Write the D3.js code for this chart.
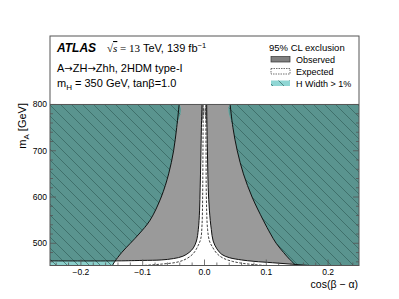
<!DOCTYPE html>
<html>
<head>
<meta charset="utf-8">
<script src="https://cdn.jsdelivr.net/npm/d3@7"></script>
<style>
  body { margin: 0; background: #fff; }
  text { font-family: "Liberation Sans", Arial, sans-serif; }
</style>
</head>
<body>
<div class="chart"></div>
<script>
// ---- data: [cos(b-a), mA] ----
const teal_left = [[-0.041, 800], [-0.045, 750], [-0.050, 700], [-0.058, 650], [-0.070, 600],
  [-0.088, 550], [-0.106, 520], [-0.120, 500], [-0.134, 480], [-0.1455, 460], [-0.149, 452]];
const teal_right = [[0.0415, 800], [0.046, 750], [0.053, 700], [0.063, 650], [0.077, 600],
  [0.095, 550], [0.107, 520], [0.116, 500], [0.128, 480], [0.138, 465], [0.148, 452]];

// observed limit, left branch from top of funnel down to the left edge
const obs_left = [[-0.004, 800], [-0.005, 750], [-0.006, 680], [-0.007, 620], [-0.008, 570],
  [-0.010, 530], [-0.013, 505], [-0.018, 490], [-0.025, 480], [-0.035, 472], [-0.050, 467],
  [-0.070, 464], [-0.100, 463], [-0.140, 462], [-0.250, 462]];
const obs_right = [[0.0035, 800], [0.004, 750], [0.005, 680], [0.006, 620], [0.008, 570],
  [0.011, 530], [0.014, 505], [0.020, 488], [0.028, 476], [0.040, 469], [0.060, 464],
  [0.080, 461], [0.110, 458], [0.140, 455], [0.170, 452], [0.200, 449]];

const exp_left = [[-0.002, 800], [-0.0025, 700], [-0.003, 600], [-0.004, 540], [-0.006, 510],
  [-0.010, 496], [-0.018, 478], [-0.030, 466], [-0.045, 459], [-0.070, 455], [-0.100, 452], [-0.130, 450]];
const exp_right = [[0.002, 800], [0.0025, 700], [0.003, 600], [0.005, 530], [0.008, 505],
  [0.012, 494], [0.020, 478], [0.030, 468], [0.045, 461], [0.060, 457], [0.080, 454], [0.110, 451], [0.140, 449]];

const xMajor = [-0.2, -0.1, 0.0, 0.1, 0.2];
const yMajor = [500, 600, 700, 800];

const w = 399, h = 299;
const pl = 50, pr = 359, pt = 36, pb = 265.5;

const x = d3.scaleLinear().domain([-0.25, 0.25]).range([pl, pr]);
const y = d3.scaleLinear().domain([452, 948]).range([pb, pt]);

const svg = d3.select(".chart").append("svg")
  .attr("width", w).attr("height", h);

const defs = svg.append("defs");
defs.append("clipPath").attr("id", "plotclip")
  .append("rect").attr("x", pl).attr("y", y(800)).attr("width", pr - pl).attr("height", pb - y(800));

const hatch = defs.append("pattern").attr("id", "hatch")
  .attr("patternUnits", "userSpaceOnUse").attr("width", 11).attr("height", 11);
hatch.append("path").attr("d", "M0,0L11,11M-5.5,5.5L5.5,16.5M5.5,-5.5L16.5,5.5")
  .attr("stroke", "#33605c").attr("stroke-width", 0.7);

const line = d3.line().x(d => x(d[0])).y(d => y(d[1])).curve(d3.curveCatmullRom);

// region polygons
const tealL = [[-0.25, 800]].concat(teal_left, [[-0.25, 440]]);
const tealR = [[0.25, 800]].concat(teal_right, [[0.25, 440]]);
const obsL = [[-0.25, 800]].concat(obs_left);
const obsR = [[0.25, 800]].concat(obs_right, [[0.25, 440]]);

defs.append("clipPath").attr("id", "obsclip").selectAll("path")
  .data([obsL, obsR]).enter().append("path").attr("d", line);

const plot = svg.append("g").attr("clip-path", "url(#plotclip)");

plot.selectAll(".obs").data([obsL, obsR]).enter().append("path")
  .attr("d", line).attr("fill", "#9a9a9a");

plot.selectAll(".teal-light").data([tealL, tealR]).enter().append("path")
  .attr("d", line).attr("fill", "#8bcfcb");

plot.append("g").attr("clip-path", "url(#obsclip)")
  .selectAll("path").data([tealL, tealR]).enter().append("path")
  .attr("d", line).attr("fill", "#5a948f");

plot.selectAll(".teal-hatch").data([tealL, tealR]).enter().append("path")
  .attr("d", line).attr("fill", "url(#hatch)");

// contour lines
plot.selectAll(".teal-line").data([teal_left, teal_right]).enter().append("path")
  .attr("d", line).attr("fill", "none").attr("stroke", "#111").attr("stroke-width", 1);
plot.selectAll(".obs-line").data([obs_left, obs_right]).enter().append("path")
  .attr("d", line).attr("fill", "none").attr("stroke", "#111").attr("stroke-width", 1);
plot.selectAll(".exp-line").data([exp_left, exp_right]).enter().append("path")
  .attr("d", line).attr("fill", "none").attr("stroke", "#111").attr("stroke-width", 0.8)
  .attr("stroke-dasharray", "2.5,1.5");

// frame
svg.append("rect").attr("x", pl).attr("y", pt).attr("width", pr - pl).attr("height", pb - pt)
  .attr("fill", "none").attr("stroke", "#555").attr("stroke-width", 1);
svg.append("line").attr("x1", pl).attr("x2", pr).attr("y1", y(800)).attr("y2", y(800))
  .attr("stroke", "#555").attr("stroke-width", 1);

// ticks
const ticks = svg.append("g").attr("stroke", "#555").attr("stroke-width", 0.8);
d3.range(-0.24, 0.2401, 0.02).forEach(v => {
  const major = xMajor.some(m => Math.abs(m - v) < 1e-6);
  ticks.append("line").attr("x1", x(v)).attr("x2", x(v))
    .attr("y1", pb).attr("y2", pb - (major ? 6 : 3));
});
d3.range(460, 801, 20).forEach(v => {
  const major = v % 100 === 0;
  const l = major ? 6 : 3;
  ticks.append("line").attr("x1", pl).attr("x2", pl + l).attr("y1", y(v)).attr("y2", y(v));
  ticks.append("line").attr("x1", pr).attr("x2", pr - l).attr("y1", y(v)).attr("y2", y(v));
});

// tick labels
svg.selectAll(".xl").data(xMajor).enter().append("text")
  .attr("x", d => x(d)).attr("y", 275).attr("text-anchor", "middle")
  .attr("font-size", 8.5).text(d => d3.format(".1f")(d).replace("-", "\u2212"));
svg.selectAll(".yl").data(yMajor).enter().append("text")
  .attr("x", 47).attr("y", d => y(d) + 3).attr("text-anchor", "end")
  .attr("font-size", 8.5).text(d => d);

// axis titles
svg.append("text").attr("x", 358).attr("y", 288).attr("text-anchor", "end")
  .attr("font-size", 10.5).text("cos(\u03B2 \u2212 \u03B1)");
const yt = svg.append("text").attr("transform", "translate(26,103) rotate(-90)")
  .attr("text-anchor", "end").attr("font-size", 11);
yt.append("tspan").text("m");
yt.append("tspan").attr("font-size", 8).attr("dy", 2.5).text("A");
yt.append("tspan").attr("dy", -2.5).text(" [GeV]");

// labels
svg.append("text").attr("x", 57).attr("y", 52).attr("font-size", 12)
  .attr("font-weight", "bold").attr("font-style", "italic").text("ATLAS");
const en = svg.append("text").attr("x", 107).attr("y", 52).attr("font-size", 11);
en.append("tspan").attr("font-family", "Liberation Serif").text("\u221A");
en.append("tspan").attr("font-family", "Liberation Serif").attr("font-style", "italic")
  .attr("text-decoration", "overline").text("s");
en.append("tspan").attr("font-family", "Liberation Serif").text(" = 13");
en.append("tspan").text(" TeV, 139 fb");
en.append("tspan").attr("font-size", 7.5).attr("dy", -4.5).text("\u22121");

const l2 = svg.append("text").attr("x", 57).attr("y", 71.5).attr("font-size", 11);
l2.append("tspan").text("A");
l2.append("tspan").attr("font-family", "DejaVu Sans").attr("font-size", 10).text("\u2192");
l2.append("tspan").text("ZH");
l2.append("tspan").attr("font-family", "DejaVu Sans").attr("font-size", 10).text("\u2192");
l2.append("tspan").text("Zhh, 2HDM type-I");
const l3 = svg.append("text").attr("x", 57).attr("y", 87).attr("font-size", 11);
l3.append("tspan").text("m");
l3.append("tspan").attr("font-size", 8).attr("dy", 2.5).text("H");
l3.append("tspan").attr("dy", -2.5).text(" = 350 GeV, tan\u03B2=1.0");

// legend
svg.append("text").attr("x", 269).attr("y", 50.5).attr("font-size", 9.5).text("95% CL exclusion");
const leg = [
  { label: "Observed", fill: "#808080", stroke: "#333", dash: null, y0: 56.5 },
  { label: "Expected", fill: "#fff", stroke: "#333", dash: "1.5,1", y0: 68.5 },
  { label: "H Width > 1%", fill: "#8fd6d4", stroke: "none", dash: null, y0: 80.5 }
];
const lg = svg.selectAll(".leg").data(leg).enter().append("g");
lg.append("rect").attr("x", 271).attr("y", d => d.y0).attr("width", 19).attr("height", 5.5)
  .attr("fill", d => d.fill).attr("stroke", d => d.stroke).attr("stroke-width", 0.7)
  .attr("stroke-dasharray", d => d.dash);
lg.filter(d => d.stroke === "none").append("rect").attr("x", 271).attr("y", d => d.y0)
  .attr("width", 19).attr("height", 5.5).attr("fill", "url(#hatch)");
lg.append("text").attr("x", 296).attr("y", d => d.y0 + 6).attr("font-size", 9).text(d => d.label);
</script>
</body>
</html>
